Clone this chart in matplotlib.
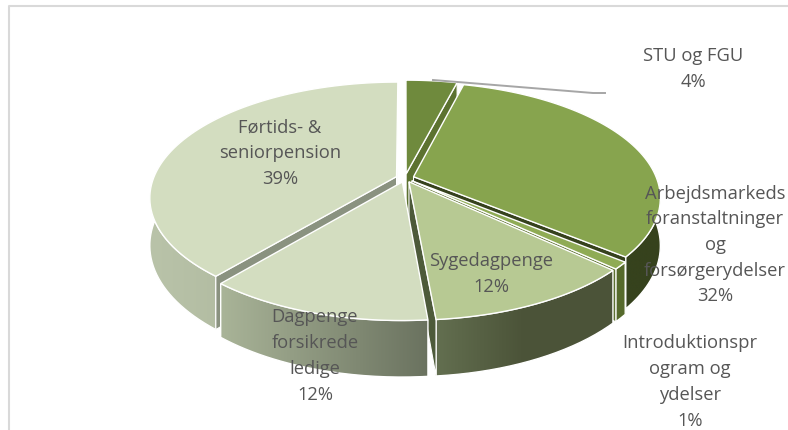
import numpy as np
import matplotlib
matplotlib.use("Agg")
import matplotlib.pyplot as plt
from matplotlib.patches import PathPatch
from matplotlib.path import Path
from matplotlib.colors import LinearSegmentedColormap

# Data
labels = ["STU og FGU\n4%",
          "Arbejdsmarkeds\nforanstaltninger\nog\nforsørgerydelser\n32%",
          "Introduktionspr\nogram og\nydelser\n1%",
          "Sygedagpenge\n12%",
          "Dagpenge\nforsikrede\nledige\n12%",
          "Førtids- &\nseniorpension\n39%"]
values = [4, 32, 1, 11.6, 12.4, 39]

# Styles
top_colors = ["#6f8a3d", "#87a44e", "#8fab55", "#b7c993", "#d3ddc0", "#d3ddc0"]
side_colors = ["#5c7230", "#36421d", "#5d7030", "#4d5a3a", "#5f6652", "#8a9280"]
wall_grads = [["#5c7230", "#5c7230"],
              ["#36421d", "#36421d", "#36421d"],
              ["#566a2c", "#566a2c"],
              ["#636f50", "#4b5338", "#4c5439"],
              ["#a9b498", "#6a725f"],
              ["#b9c3a9", "#a3ad92"]]
label_xy = [(693, 69), (715, 245), (690, 382), (491, 274), (315, 356), (280, 153)]

# Projection layout (pixels)
CX, CY, A, B, K, H, EXPL = 405, 178, 243, 112, 0.18, 46, 0.037


def proj(u, v, d=0.0):
    den = 1 - K * v
    return CX + A * u / den, CY + B * v / den + H * d / den


def cross(a, b):
    return a[0] * b[1] - a[1] * b[0]


fig = plt.figure(figsize=(7.88, 4.30), dpi=100)
ax = fig.add_axes([0, 0, 1, 1])
ax.set_xlim(0, 788)
ax.set_ylim(430, 0)
ax.axis("off")

# Chart frame
ax.plot([9, 9, 788], [430, 6, 6], color="#d9d9d9", lw=1.5, zorder=0)

frac = np.array(values, float) / sum(values)
ends = np.cumsum(frac) * 2 * np.pi
starts = ends - frac * 2 * np.pi
mids = (starts + ends) / 2
order = np.argsort(-np.cos(mids))

z = 1
for i in order:
    ex, ey = EXPL * np.sin(mids[i]), -EXPL * np.cos(mids[i])
    th = np.linspace(starts[i], ends[i], 80)
    us, vs = ex + np.sin(th), ey - np.cos(th)
    top = np.array([proj(u, v) for u, v in zip(us, vs)])
    bot = np.array([proj(u, v, 1) for u, v in zip(us, vs)])
    ap_t = np.array(proj(ex, ey))
    ap_b = np.array(proj(ex, ey, 1))
    inner = top[len(top) // 2] - ap_t
    # outer wall with gradient
    outline = np.vstack([top, bot[::-1]])
    patch = PathPatch(Path(np.vstack([outline, outline[0]])), fc="none", ec="white", lw=1.0,
                      transform=ax.transData, zorder=z + 1)
    cmap = LinearSegmentedColormap.from_list("w", wall_grads[i])
    x0, x1 = outline[:, 0].min(), outline[:, 0].max()
    y0, y1 = outline[:, 1].min(), outline[:, 1].max()
    im = ax.imshow(np.linspace(0, 1, 256)[None, :], extent=(x0, x1, y1, y0), cmap=cmap,
                   aspect="auto", zorder=z, interpolation="bilinear")
    ax.add_patch(patch)
    im.set_clip_path(patch)
    z += 2
    # radial walls: only those facing the viewer
    for e_t, e_b in ((top[0], bot[0]), (top[-1], bot[-1])):
        edge = e_t - ap_t
        if cross(edge, inner) * cross(edge, (0, 1)) < 0:
            q = np.array([ap_t, e_t, e_b, ap_b])
            ax.add_patch(plt.Polygon(q, closed=True, fc=side_colors[i], ec="white", lw=0.8, zorder=z))
            z += 1
    # top face
    face = np.vstack([ap_t, top])
    ax.add_patch(plt.Polygon(face, closed=True, fc=top_colors[i], ec="white", lw=1.0, zorder=z))
    z += 1

ax.set_xlim(0, 788)
ax.set_ylim(430, 0)

# Leader line for the first label
ax.plot([433, 593, 605], [80, 93, 93], color="#a6a6a6", lw=1.4, zorder=z)
z += 1

for lab, (x, y) in zip(labels, label_xy):
    ax.text(x, y, lab, ha="center", va="center", family="Open Sans", fontsize=13.2,
            color="#565656", linespacing=1.55, zorder=z, clip_on=True)

fig.savefig("out.png", dpi=100)
